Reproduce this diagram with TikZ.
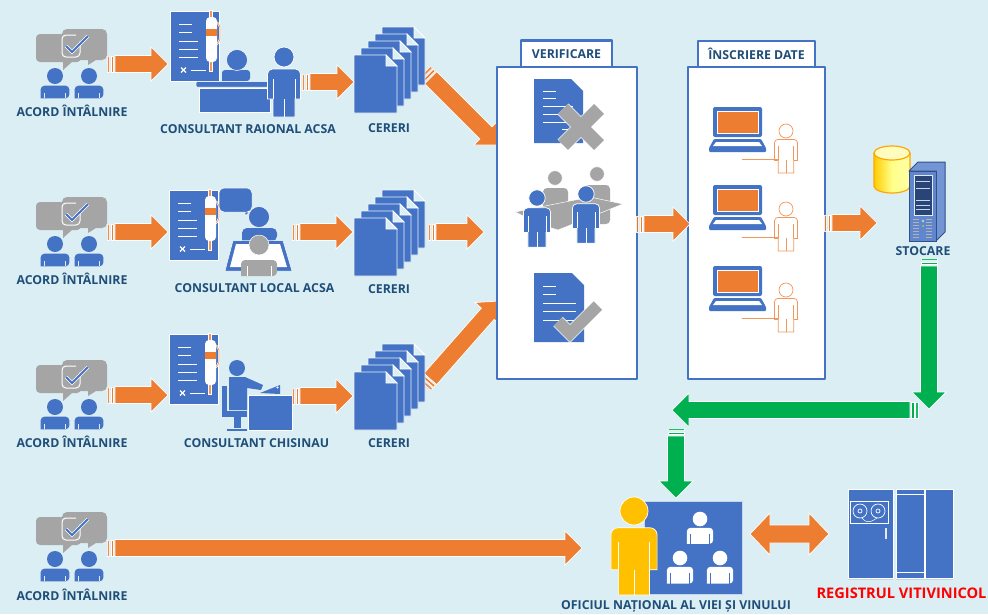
\documentclass[tikz,border=0pt]{standalone}
\usepackage{fontspec}
\setmainfont{Open Sans}
\usetikzlibrary{calc}
\definecolor{bgc}{HTML}{DBEEF4}
\definecolor{bluec}{HTML}{4472C4}
\definecolor{orangec}{HTML}{ED7D31}
\definecolor{greenc}{HTML}{00B050}
\definecolor{greyc}{HTML}{A5A5A5}
\definecolor{goldc}{HTML}{FFC000}
\definecolor{textc}{HTML}{1F4E79}
\tikzset{
  lab/.style={font=\bfseries\fontsize{12.3}{14}\selectfont,text=textc,inner sep=0pt},
  redlab/.style={font=\bfseries\fontsize{14.6}{16}\selectfont,text=red,inner sep=0pt},
  panel/.style={draw=bluec,line width=2.8pt,fill=white,line join=round},
  wl/.style={draw=white,line width=1pt},
  blk/.style={fill=bluec,draw=white,line width=.5pt},
  gry/.style={fill=greyc,draw=white,line width=.5pt},
}
% point along a->b at distance d, offset s
\newcommand\barrow[3]{%
  \coordinate (t0) at (#2); \coordinate (t1) at (#3);
  \fill[#1,opacity=.85,draw=white,line width=.6pt] ($(t0)!0pt!(t1)!8pt!90:(t1)$) -- ($(t0)!2.5pt!(t1)!8pt!90:(t1)$) -- ($(t0)!2.5pt!(t1)!-8pt!90:(t1)$) -- ($(t0)!0pt!(t1)!-8pt!90:(t1)$) -- cycle;
  \fill[#1,draw=white,line width=.6pt] ($(t0)!4pt!(t1)!8pt!90:(t1)$) -- ($(t0)!6.5pt!(t1)!8pt!90:(t1)$) -- ($(t0)!6.5pt!(t1)!-8pt!90:(t1)$) -- ($(t0)!4pt!(t1)!-8pt!90:(t1)$) -- cycle;
  \fill[#1,draw=white,line width=.7pt,line join=miter] ($(t0)!8pt!(t1)!8.5pt!90:(t1)$) -- ($(t1)!17pt!(t0)!-8.5pt!90:(t0)$) -- ($(t1)!17pt!(t0)!-17pt!90:(t0)$) -- (t1) -- ($(t1)!17pt!(t0)!17pt!90:(t0)$) -- ($(t1)!17pt!(t0)!8.5pt!90:(t0)$) -- ($(t0)!8pt!(t1)!-8.5pt!90:(t1)$) -- cycle;
}
% standing person: fill, line colour, x, y of head, scale
\newcommand\persona[5]{%
  \begin{scope}[shift={(#3,#4)},x=#5pt,y=-#5pt]
    \pgfmathsetmacro\rr{5*#5}
    \filldraw[fill=#1,draw=#2,line width=.7pt] (-11,60) -- (-11,42) -- (-16.5,42) [rounded corners=\rr pt] -- (-16.5,12) -- (16.5,12) [sharp corners] -- (16.5,42) -- (11,42) -- (11,60) -- cycle;
    \draw[#2,line width=.7pt] (-11,42) -- (-11,22) (11,42) -- (11,22) (0,42) -- (0,60);
    \filldraw[fill=#1,draw=#2,line width=.7pt] (0,0) circle (10);
  \end{scope}}
% bust: fill, line colour, x, y of head, scale, bottom
\newcommand\bust[6]{%
  \begin{scope}[shift={(#3,#4)},x=#5pt,y=-#5pt]
    \pgfmathsetmacro\rr{5*#5}
    \fill[#1,rounded corners=\rr pt] (-18,#6) -- (-18,12) -- (18,12) -- (18,#6) [sharp corners] -- cycle;
    \draw[#2,line width=.7pt] (-13,#6) -- (-13,21) (13,#6) -- (13,21);
    \fill[#1] (0,0) circle (10);
  \end{scope}}
\newcommand\chaticon[2]{%
  \begin{scope}[shift={(#1,#2)}]
    \filldraw[fill=greyc,draw=none,rounded corners=4pt] (36,34) -- (81,34) -- (81,62) [sharp corners] -- (72,62) -- (63,70) -- (63,62) [rounded corners=4pt] -- (36,62) -- cycle;
    \filldraw[fill=greyc,draw=none,rounded corners=5pt] (62,29) -- (107,29) -- (107,60) [sharp corners] -- (96,60) -- (88,65) -- (88,60) [rounded corners=5pt] -- (62,60) -- cycle;
    \draw[white,line width=1pt,rounded corners=4pt] (80,41) -- (80,57) -- (62,57) -- (62,35) -- (76,35);
    \draw[draw=white,line width=3.4pt] (66,46) -- (72,52) -- (88,36);
    \draw[bluec,line width=2pt] (66,46) -- (72,52) -- (88,36);
    \bust{bluec}{bgc}{55}{76}{.8}{28}
    \bust{bluec}{bgc}{89}{76}{.8}{28}
  \end{scope}}
\newcommand\docpen[2]{%
  \begin{scope}[shift={(#1,#2)}]
    \filldraw[blk] (170,11) rectangle (219,81);
    \draw[wl] (179,24) -- (192,24) (179,32) -- (192,32) (179,41) -- (198,41) (179,49) -- (198,49) (179,57) -- (198,57) (191,70) -- (206,70);
    \draw[white,line width=1.1pt] (181,67.5) -- (186,72.5) (186,67.5) -- (181,72.5);
    \draw[white,line width=3.4pt] (211,10) -- (211,72);
    \draw[orangec!80,line width=1.6pt] (211,11) -- (211,71);
    \draw[white,line width=2pt,rounded corners=2pt] (216,22) -- (220,25) -- (220,41) -- (216,45);
    \draw[orangec!80,line width=.7pt,rounded corners=2pt] (216,22) -- (220,25) -- (220,41) -- (216,45);
    \fill[white,rounded corners=4pt] (206,17) rectangle (217,62);
    \fill[orangec] (206,29) rectangle (217,36);
  \end{scope}}
\newcommand\pages[2]{%
  \foreach \i in {4,3,2,1,0}{
    \begin{scope}[shift={({#1+7*\i},{#2-7*\i})}]
      \filldraw[fill=bluec,draw=bgc!50!white,line width=.7pt] (0,0) -- (32,0) -- (43,11) -- (43,58) -- (0,58) -- cycle;
      \filldraw[fill=bgc,draw=white,line width=.8pt] (32,0) -- (43,11) -- (32,11) -- cycle;
    \end{scope}}}
\newcommand\laptop[2]{%
  \begin{scope}[shift={(#1,#2)}]
    \filldraw[fill=bluec,draw=none,rounded corners=2pt] (713,107) rectangle (762,137);
    \filldraw[fill=orangec,draw=white,line width=.5pt] (717,111) rectangle (758,133);
    \fill[bluec,rounded corners=1pt] (714,139) -- (761,139) -- (766,148) -- (766,152) -- (709,152) -- (709,148) -- cycle;
    \fill[white] (716,142) -- (759,142) -- (762,146) -- (713,146) -- cycle;
    \persona{white}{orangec!80}{786}{131}{.7}
    \draw[orangec!80,line width=.8pt] (742,159) -- (778,159);
  \end{scope}}
\begin{document}
\begin{tikzpicture}[x=1pt,y=-1pt]
\useasboundingbox (0,0) rectangle (988,614);
\fill[bgc] (0,0) rectangle (988,614);

% connector end points
\coordinate (a1s) at (107,64);  \coordinate (a1e) at (168,64);
\coordinate (a2s) at (302,82);  \coordinate (a2e) at (354,82);
\coordinate (a3s) at (425,72);  \coordinate (a3e) at (498,145);
\coordinate (b1s) at (107,232); \coordinate (b1e) at (168,232);
\coordinate (b2s) at (292,232); \coordinate (b2e) at (353,232);
\coordinate (b3s) at (428,232); \coordinate (b3e) at (484,232);
\coordinate (c1s) at (107,395); \coordinate (c1e) at (168,395);
\coordinate (c2s) at (292,396); \coordinate (c2e) at (353,396);
\coordinate (c3s) at (425,385); \coordinate (c3e) at (499,301);
\coordinate (v1s) at (636,224); \coordinate (v1e) at (690,224);
\coordinate (i1s) at (824,223); \coordinate (i1e) at (877,223);
\coordinate (g1s) at (929,258); \coordinate (g1e) at (929,409);
\coordinate (g2s) at (918,410); \coordinate (g2e) at (672,410);
\coordinate (g3s) at (676,428); \coordinate (g3e) at (676,498);
\coordinate (d1s) at (107,548); \coordinate (d1e) at (582,548);
\coordinate (dd1) at (750,534); \coordinate (dd2) at (829,534);

\barrow{orangec}{a3s}{a3e}
\barrow{orangec}{b3s}{b3e}
\barrow{orangec}{c3s}{c3e}

% rows
\chaticon{0}{0} \chaticon{0}{168} \chaticon{0}{331} \chaticon{0}{483}
\docpen{0}{0} \docpen{-1}{179} \docpen{-1}{323}
\pages{354}{55} \pages{354}{218} \pages{354}{372}

\node[lab] (l1) at (72,111) {ACORD ÎNTÂLNIRE};
\node[lab] (l2) at (72,279) {ACORD ÎNTÂLNIRE};
\node[lab] (l3) at (72,442) {ACORD ÎNTÂLNIRE};
\node[lab] (l4) at (72,595) {ACORD ÎNTÂLNIRE};
\node[lab] (cr) at (248,129) {CONSULTANT RAIONAL ACSA};
\node[lab] (cl) at (254.5,288) {CONSULTANT LOCAL ACSA};
\node[lab] (cc) at (256.5,443) {CONSULTANT CHISINAU};
\node[lab] (p1) at (389,128) {CERERI};
\node[lab] (p2) at (389,289) {CERERI};
\node[lab] (p3) at (389,443) {CERERI};

% consultant raional
\fill[bluec,rounded corners=3pt] (222,81) -- (222,70) -- (250,70) -- (250,81) [sharp corners] -- cycle;
\filldraw[fill=bluec,draw=white,line width=.5pt] (237,60) circle (10.5);
\filldraw[blk,rounded corners=1pt] (196,81.5) rectangle (272,87);
\filldraw[blk] (199,88) rectangle (270,112);
\persona{bluec}{white}{284}{57}{1}

% consultant local
\filldraw[blk,rounded corners=5pt] (219,188) -- (252,188) -- (252,212) [sharp corners] -- (250,212) -- (245,216) -- (245,212) [rounded corners=5pt] -- (219,212) -- cycle;
\filldraw[fill=bluec,draw=white,line width=.5pt] (259,217) circle (10.5);
\fill[bluec,rounded corners=5pt] (242,241) -- (242,228) -- (277,228) -- (277,241) [sharp corners] -- cycle;
\filldraw[blk] (233,240.5) -- (283,240.5) -- (292,271) -- (225,271) -- cycle;
\fill[white] (236,244) -- (280,244) -- (287,267) -- (230,267) -- cycle;
\fill[greyc,rounded corners=4pt] (241,276) -- (241,260) -- (277,260) -- (277,276) [sharp corners] -- cycle;
\filldraw[gry] (259,245) circle (10);
\draw[white,line width=.7pt] (247,276) -- (247,266) (271,276) -- (271,266);

% consultant chisinau
\fill[bluec] (222,386) rectangle (227,417);
\fill[bluec] (222,411) rectangle (247,417);
\fill[bluec] (234,417) rectangle (241,428);
\fill[bluec] (227,429) rectangle (247,430.5);
\fill[bluec] (229,377) -- (245,377) -- (263,385) -- (261,390) -- (247,388) -- (247,410) -- (229,410) -- cycle;
\fill[bluec] (237,368) circle (8);
\fill[bluec] (260,393) -- (280,385) -- (280,394) -- cycle;
\fill[white] (277.5,387.5) circle (1.2);
\filldraw[blk] (248,395) rectangle (292,430);

% green and other arrows
\barrow{orangec}{a1s}{a1e} \barrow{orangec}{a2s}{a2e}
\barrow{orangec}{b1s}{b1e} \barrow{orangec}{b2s}{b2e}
\barrow{orangec}{c1s}{c1e} \barrow{orangec}{c2s}{c2e}
\barrow{orangec}{d1s}{d1e}

% VERIFICARE
\node[panel,minimum width=91pt,minimum height=27pt,inner sep=0pt] (vt) at (566.5,54) {};
\node[lab] (vl) at (vt) {VERIFICARE};
\node[panel,minimum width=140pt,minimum height=312pt,inner sep=0pt] (verif) at (567,223) {};
% doc x
\filldraw[fill=bluec,draw=none] (534,79) -- (571,79) -- (583,91) -- (583,143) -- (534,143) -- cycle;
\draw[wl] (543,91) -- (556,91) (543,98) -- (556,98) (543,106) -- (573,106) (543,114) -- (573,114) (543,122) -- (573,122) (562,129) -- (573,129);
\draw[white,line width=15.4pt] (563,109) -- (599,145) (599,109) -- (563,145);
\draw[greyc,line width=14pt] (563,109) -- (599,145) (599,109) -- (563,145);
% meeting
\filldraw[gry] (555,178) circle (7.3);
\fill[greyc,rounded corners=4pt] (543,215) -- (543,188) -- (568,188) -- (568,215) [sharp corners] -- cycle;
\filldraw[gry] (597,174) circle (7.3);
\fill[greyc,rounded corners=4pt] (585,224) -- (585,185) -- (610,185) -- (610,224) [sharp corners] -- cycle;
\filldraw[gry] (515,212) -- (540,207) -- (590,197) -- (623,204) -- (558,230) -- (545,226) -- cycle;
\persona{bluec}{white}{537}{198}{.82}
\persona{bluec}{white}{586}{194}{.82}
% doc check
\filldraw[fill=bluec,draw=none] (534,273) -- (572,273) -- (584,285) -- (584,342) -- (534,342) -- cycle;
\draw[wl] (543,286) -- (556,286) (543,294) -- (556,294) (543,303) -- (576,303) (543,311) -- (576,311) (543,320) -- (576,320);
\draw[white,line width=13.4pt,line join=miter] (558,321.5) -- (570,333.5) -- (598,305.5);
\draw[greyc,line width=12pt,line join=miter] (558,321.5) -- (570,333.5) -- (598,305.5);

% INSCRIERE DATE
\node[panel,minimum width=117pt,minimum height=26pt,inner sep=0pt] (it) at (756.5,54) {};
\node[lab] (il) at (it) {ÎNSCRIERE DATE};
\node[panel,minimum width=137pt,minimum height=312pt,inner sep=0pt] (insc) at (756.5,223) {};
\laptop{0}{0} \laptop{0}{78} \laptop{0}{159}

\barrow{orangec}{v1s}{v1e}
\barrow{orangec}{i1s}{i1e}

% storage
\shade[left color=goldc!80!yellow,right color=yellow!35!white,middle color=yellow!45!white] (874,153) -- (874,186) arc (180:360:18 and -7) -- (910,153) -- cycle;
\draw[orange!70!yellow,line width=1.2pt] (874,153) -- (874,186) arc (180:360:18 and -7) -- (910,153);
\filldraw[fill=yellow!25!white,draw=orange!70!yellow,line width=1.2pt] (892,153) ellipse (18 and 7);
\filldraw[fill=bluec!75!white,draw=bluec!70!black,line width=1pt,line join=round] (909,171) -- (918,162) -- (945,162) -- (945,232) -- (936,241) -- (936,171) -- cycle;
\filldraw[fill=bluec!85!white,draw=bluec!70!black,line width=1pt] (909,171) rectangle (936,241);
\filldraw[fill=bluec!60!black,draw=white!85!bluec,line width=.8pt] (914,175) rectangle (932,215);
\foreach \yy in {181,188,200,205,209}{\draw[white!70!bluec,line width=.7pt] (916,\yy) -- (930,\yy);}
\foreach \yy in {219,222,225,228,231,234,237}{\draw[white!70!black,line width=.7pt] (913,\yy) -- (919,\yy) (926,\yy) -- (932,\yy);}
\fill[white!80!black] (923,221) circle (1.4);
\fill[yellow!70!green] (923,226) circle (1);
\node[lab] (st) at (923,251) {STOCARE};

\barrow{greenc}{g1s}{g1e}
\barrow{greenc}{g2s}{g2e}
\barrow{greenc}{g3s}{g3e}

% office
\fill[bluec] (644,501) rectangle (742,594);
\draw[white!70!bluec,line width=.5pt] (644,501) rectangle (742,594);
\bust{white}{bluec}{700}{519}{.73}{34}
\bust{white}{bluec}{680}{558}{.73}{35}
\bust{white}{bluec}{720}{558}{.73}{35}
\persona{goldc}{white}{634}{511}{1.4}
\node[lab] (of) at (676,606) {OFICIUL NAȚIONAL AL VIEI ȘI VINULUI};

% double arrow
\fill[orangec,draw=white,line width=.7pt] (dd1) -- ($(dd1)+(20,-21)$) -- ($(dd1)+(20,-9)$) -- ($(dd2)+(-20,-9)$) -- ($(dd2)+(-20,-21)$) -- (dd2) -- ($(dd2)+(-20,21)$) -- ($(dd2)+(-20,9)$) -- ($(dd1)+(20,9)$) -- ($(dd1)+(20,21)$) -- cycle;

% registry
\filldraw[blk] (848,489) rectangle (893,578);
\filldraw[blk] (896,489) rectangle (924,578);
\filldraw[blk] (925,489) rectangle (953,578);
\draw[white,line width=.9pt] (896,494) -- (924,494) (896,572) -- (924,572);
\draw[white,line width=.8pt] (850,501) rectangle (888,523);
\draw[white,line width=.7pt] (860,511) circle (7) (878,511) circle (7) (860,511) circle (2) (878,511) circle (2);
\draw[white,line width=.5pt] (862,518) .. controls (868,525) and (872,521) .. (877,518);
\fill[white!85!bluec] (885,528) rectangle (887,539);
\draw[white!70!bluec,line width=1pt] (848,579) -- (893,579) (896,579) -- (953,579);
\node[redlab] (rv) at (901.5,593) {REGISTRUL VITIVINICOL};
\end{tikzpicture}
\end{document}
